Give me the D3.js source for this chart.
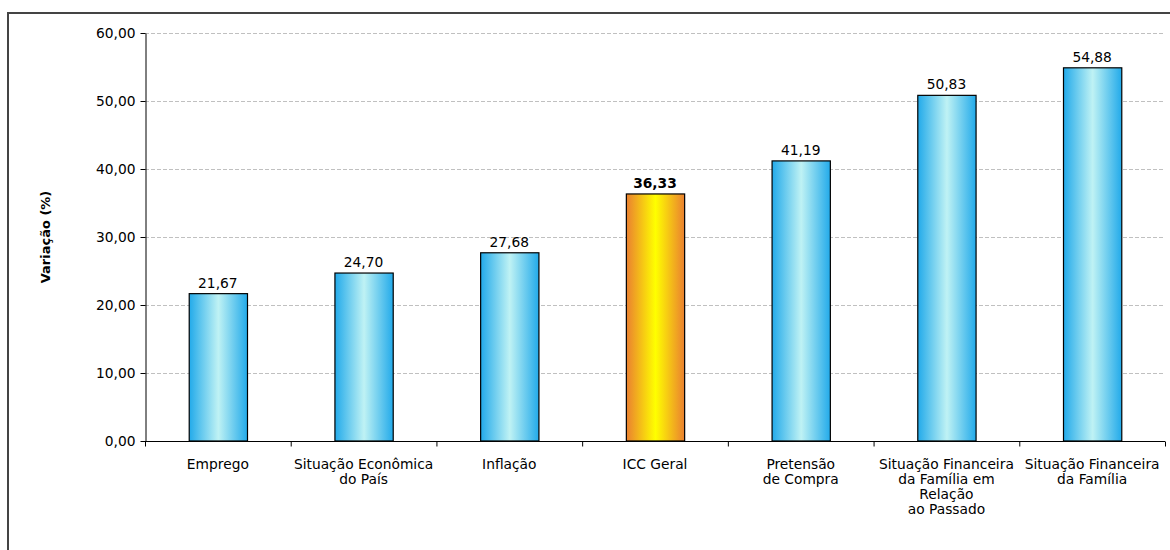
<!DOCTYPE html>
<html>
<head>
<meta charset="utf-8">
<script src="https://cdn.jsdelivr.net/npm/d3@7"></script>
<style>
  body { margin: 0; background: #fff; }
  svg { display: block; }
  text { font-family: "DejaVu Sans", Verdana, sans-serif; }
</style>
</head>
<body>
<div id="graph"></div>
<script>
// dados
const categories = [
    'Emprego',
    'Situação Econômica\ndo País',
    'Inflação',
    'ICC Geral',
    'Pretensão\nde Compra',
    'Situação Financeira\nda Família em\nRelação\nao Passado',
    'Situação Financeira\nda Família'
]
const values = [21.67, 24.70, 27.68, 36.33, 41.19, 50.83, 54.88]
const highlight = 'ICC Geral'
const yTicks = [0, 10, 20, 30, 40, 50, 60]
const yTitle = 'Variação (%)'

const W = 1170, H = 550
const margin = { top: 33, right: 5, bottom: 109, left: 145 }
const width = W - margin.left - margin.right
const height = H - margin.top - margin.bottom
const fs = 13.8

const fmt = v => d3.format('.2f')(v).replace('.', ',')

const svg = d3.select('#graph')
    .append('svg')
        .attr('width', W)
        .attr('height', H)

// gradientes
const defs = svg.append('defs')
function grad(id, edge, mid) {
    const g = defs.append('linearGradient').attr('id', id)
        .attr('x1', '0%').attr('x2', '100%').attr('y1', '0%').attr('y2', '0%')
    g.append('stop').attr('offset', '0%').attr('stop-color', edge)
    g.append('stop').attr('offset', '50%').attr('stop-color', mid)
    g.append('stop').attr('offset', '100%').attr('stop-color', edge)
}
grad('blue', '#22aaea', '#bff2f4')
grad('gold', '#ea8030', '#ffff00')

// moldura
svg.append('rect')
    .attr('x', 8).attr('y', 13)
    .attr('width', W + 20).attr('height', H + 20)
    .attr('fill', 'none')
    .attr('stroke', '#444')
    .attr('stroke-width', 2)

const g = svg.append('g')
    .attr('transform', `translate(${margin.left},${margin.top})`)

const x = d3.scaleBand()
    .domain(categories)
    .range([0, width])
    .paddingInner(0.6)
    .paddingOuter(0.3)

const y = d3.scaleLinear()
    .domain([0, 60])
    .range([height, 0])

// grade
g.append('g')
    .selectAll('line')
    .data(yTicks.filter(d => d > 0))
    .enter().append('line')
        .attr('x1', 0).attr('x2', width)
        .attr('y1', d => y(d) + 0.5).attr('y2', d => y(d) + 0.5)
        .attr('stroke', '#c0c0c0')
        .attr('stroke-dasharray', '4,2')

// eixo y
const yAxis = g.append('g')
    .attr('transform', 'translate(0.5,0)')
    .call(d3.axisLeft(y).tickValues(yTicks).tickFormat(fmt).tickSize(5).tickSizeOuter(0))
yAxis.select('.domain').attr('stroke', '#000')
yAxis.selectAll('text').attr('font-size', fs).attr('fill', '#000').attr('dx', -2)

// barras
g.selectAll('.bar')
    .data(values)
    .enter().append('rect')
        .attr('class', 'bar')
        .attr('x', (d, i) => x(categories[i]) + 0.5)
        .attr('y', d => y(d))
        .attr('width', x.bandwidth())
        .attr('height', d => height - y(d))
        .attr('fill', (d, i) => categories[i] === highlight ? 'url(#gold)' : 'url(#blue)')
        .attr('stroke', '#000')
        .attr('stroke-width', 1.2)

// rótulos
g.selectAll('.val')
    .data(values)
    .enter().append('text')
        .attr('class', 'val')
        .attr('x', (d, i) => x(categories[i]) + x.bandwidth() / 2)
        .attr('y', d => y(d) - 6)
        .attr('text-anchor', 'middle')
        .attr('font-size', fs)
        .attr('font-weight', (d, i) => categories[i] === highlight ? 'bold' : 'normal')
        .text(fmt)

// eixo x
const xb = g.append('g').attr('transform', `translate(0,${height + 0.5})`)
xb.append('line').attr('x1', 0).attr('x2', width).attr('stroke', '#000')
xb.selectAll('.tk')
    .data(d3.range(categories.length + 1))
    .enter().append('line')
        .attr('x1', i => i * x.step() + 0.5).attr('x2', i => i * x.step() + 0.5)
        .attr('y1', 0).attr('y2', 5)
        .attr('stroke', '#000')

const lab = xb.selectAll('.cat')
    .data(categories)
    .enter().append('text')
        .attr('class', 'cat')
        .attr('text-anchor', 'middle')
        .attr('font-size', fs)
        .attr('transform', d => `translate(${x(d) + x.bandwidth() / 2},27)`)
lab.selectAll('tspan')
    .data(d => d.split('\n'))
    .enter().append('tspan')
        .attr('x', 0)
        .attr('dy', (d, i) => i === 0 ? 0 : 15.3)
        .text(d => d)

// título y
svg.append('text')
    .attr('transform', `translate(50,${margin.top + height / 2}) rotate(-90)`)
    .attr('text-anchor', 'middle')
    .attr('font-size', 13)
    .attr('font-weight', 'bold')
    .text(yTitle)
</script>
</body>
</html>
